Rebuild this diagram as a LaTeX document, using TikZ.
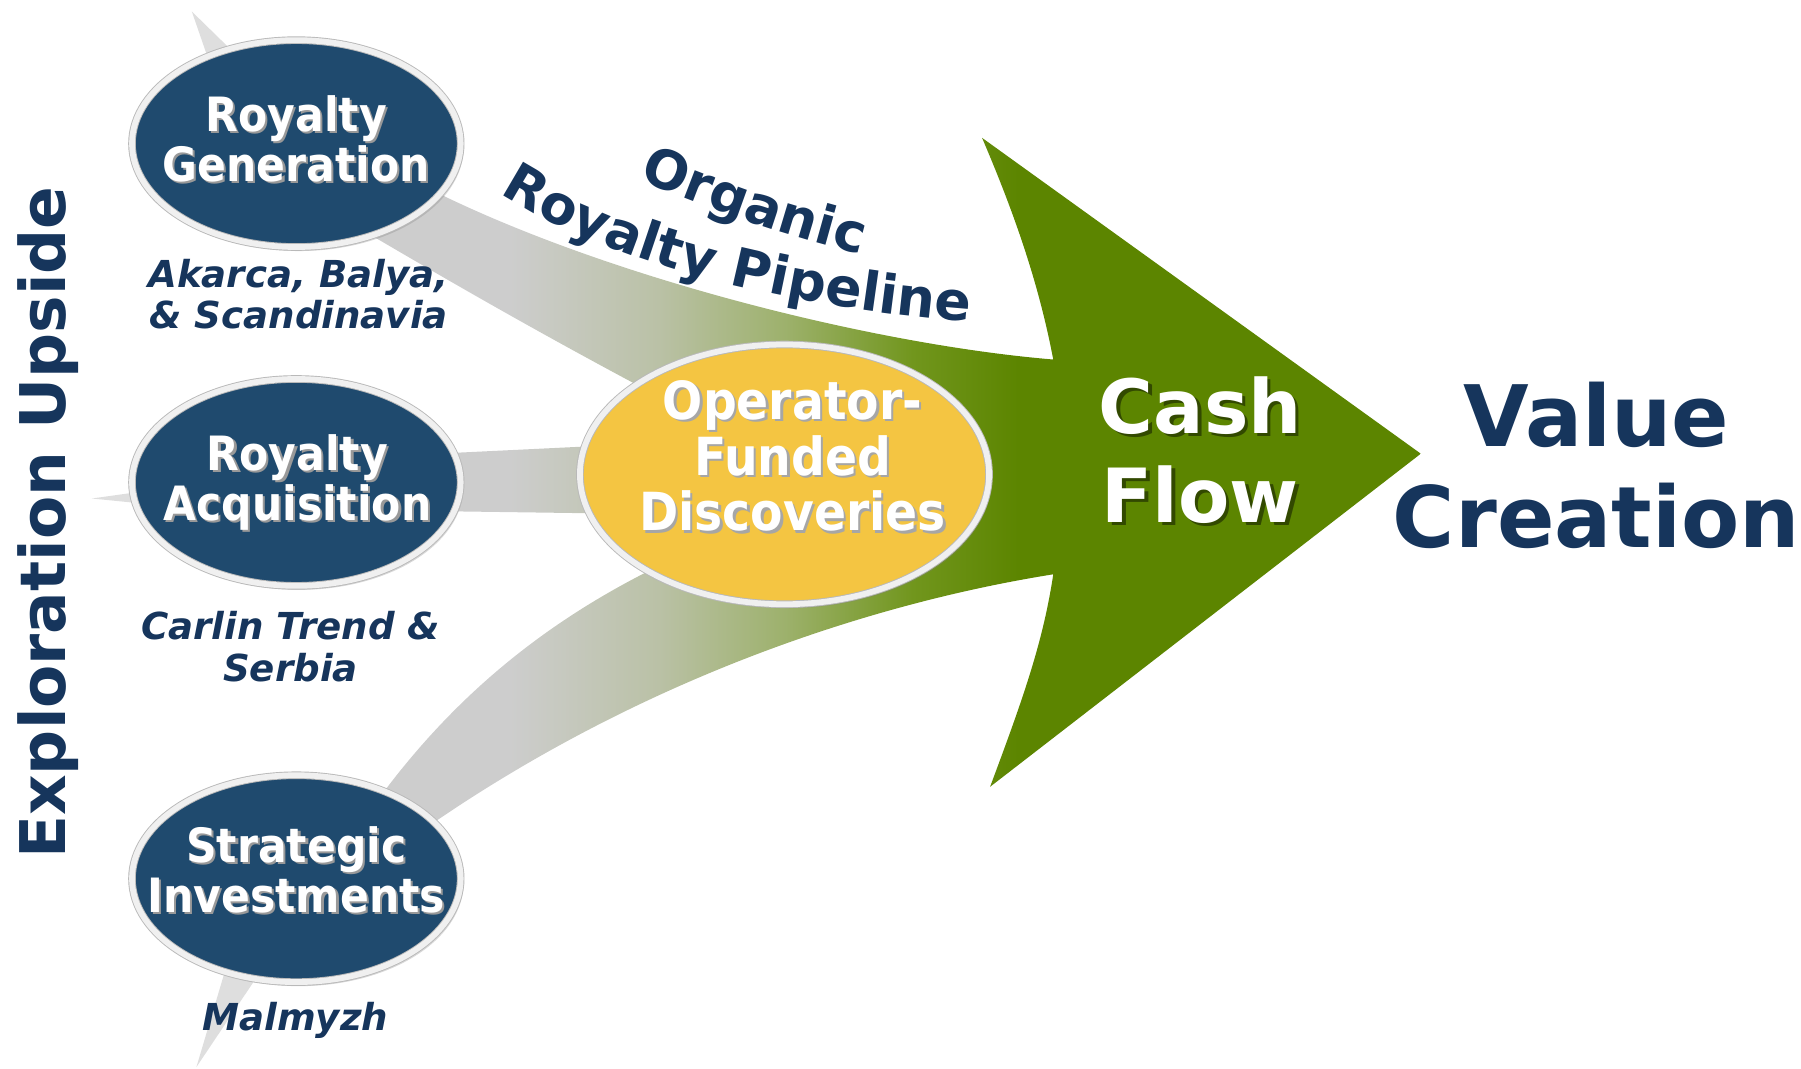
\documentclass[tikz,border=0pt]{standalone}
\usepackage{fontspec}
\setmainfont{DejaVu Sans}
\newfontfamily\condfont{DejaVu Sans}[FakeStretch=0.9]
\usetikzlibrary{shapes.geometric,shadows,decorations.text}

\definecolor{hubblue}{HTML}{1F4A6E}
\definecolor{navy}{HTML}{16355C}
\definecolor{leaf}{HTML}{5C8500}
\definecolor{gold}{HTML}{F4C542}
\definecolor{ribbon}{HTML}{CDCDCD}
\definecolor{midA}{HTML}{BAC1A6}
\definecolor{midB}{HTML}{9DB16C}
\definecolor{midC}{HTML}{71961D}

\pgfdeclarehorizontalshading{flowshade}{100bp}{color(0bp)=(ribbon); color(32bp)=(ribbon); color(39bp)=(midA); color(45bp)=(midB); color(51bp)=(midC); color(56bp)=(leaf); color(100bp)=(leaf)}

\newcommand\shtext[2][black!40]{\makebox[0pt][l]{\kern0.045em\raisebox{-0.045em}{\textcolor{#1}{#2}}}#2}
\newcommand\pipefont{\color{navy}\bfseries\fontsize{13.3}{14}\selectfont}

\tikzset{
  ring/.style={ellipse, draw=gray!55, line width=0.008cm, double=gray!12, double distance=0.05cm, inner sep=0pt,
    drop shadow={shadow xshift=0.025cm, shadow yshift=-0.035cm, opacity=0.3}},
  hub/.style={ring, fill=hubblue, minimum width=2.86cm, minimum height=1.8cm},
  hubtext/.style={text=white, align=center, font=\condfont\bfseries\fontsize{11.7}{12.3}\selectfont},
  place/.style={text=navy, align=center, font=\bfseries\itshape\fontsize{9.2}{10.3}\selectfont},
  ray/.style={fill=black!13, draw=none}
}

\begin{document}
\begin{tikzpicture}[x=0.01cm, y=-0.01cm]
    \useasboundingbox (0,0) rectangle (1568,930);
    % rays behind the hubs
    \fill[ray] (167,10) -- (185,62) -- (210,52) -- cycle;
    \fill[ray] (80,434) -- (130,427) -- (130,439) -- cycle;
    \fill[ray] (171,929) -- (196,845) -- (224,850) -- cycle;
    % ribbons and cash flow arrow
    \path[shading=flowshade] (365,160) .. controls (520,240) and (760,300) .. (917,313)
        .. controls (905,250) and (885,190) .. (855,120) -- (1237,395) -- (862,685)
        .. controls (890,610) and (908,560) .. (917,500)
        .. controls (760,525) and (560,590) .. (372,720) -- (330,695)
        .. controls (400,600) and (480,540) .. (565,497) -- (525,447) -- (380,445)
        -- (380,395) -- (525,388) -- (560,338)
        .. controls (470,290) and (400,250) .. (315,200) -- cycle;
    % hubs
    \node[hub] (gen) at (258,125) {};
    \node[hub] (acq) at (258,420) {};
    \node[hub] (inv) at (258,765) {};
    \node[ring, fill=gold, minimum width=3.56cm, minimum height=2.26cm] (disc) at (683,413) {};
    \node[hubtext] (gentxt) at (258,122) {\shtext{Royalty}\\\shtext{Generation}};
    \node[hubtext] (acqtxt) at (259,421) {\shtext{Royalty}\\\shtext{Acquisition}};
    \node[hubtext] (invtxt) at (258,758) {\shtext{Strategic}\\\shtext{Investments}};
    \node[hubtext, font=\condfont\bfseries\fontsize{13}{13.8}\selectfont] (disctxt) at (690,398)
        {\shtext[black!35]{Operator-}\\\shtext[black!35]{Funded}\\\shtext[black!35]{Discoveries}};
    % places
    \node[place] (gensub) at (260,256) {Akarca, Balya,\\\& Scandinavia};
    \node[place] (acqsub) at (253,563) {Carlin Trend \&\\Serbia};
    \node[place] (invsub) at (257,888) {Malmyzh};
    % titles
    \node[rotate=90, text=navy, font=\bfseries\fontsize{15.6}{18}\selectfont] (upside) at (42,455) {Exploration Upside};
    \node[text=white, align=center, font=\bfseries\fontsize{18.5}{22}\selectfont] (cash) at (1045,393)
        {\shtext[black!45!leaf]{Cash}\\\shtext[black!45!leaf]{Flow}};
    \node[text=navy, align=center, font=\bfseries\fontsize{21}{25}\selectfont] (value) at (1390,405) {Value\\Creation};
    \path[decorate, decoration={text along path, text align=center, text={|\pipefont|Organic}}]
        (542,150) .. controls (610,180) and (680,205) .. (764,225);
    \path[decorate, decoration={text along path, text align=center, text={|\pipefont|Royalty Pipeline}}]
        (425,161) .. controls (520,228) and (690,270) .. (857,281);
\end{tikzpicture}
\end{document}
